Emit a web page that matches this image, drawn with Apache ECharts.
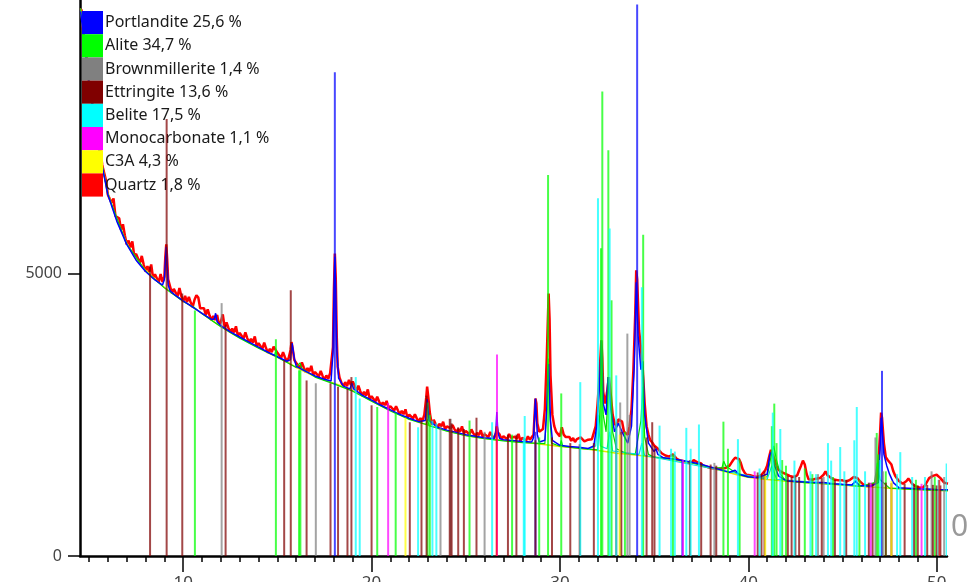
<!DOCTYPE html>
<html><head><meta charset="utf-8">
<script src="https://cdn.jsdelivr.net/npm/echarts@6/dist/echarts.min.js"></script>
<style>html,body{margin:0;padding:0;background:#fff}#c{width:969px;height:582px}</style>
</head><body><div id="c"></div>
<script>
// ---- legend / phases ----
const phaseNames = ['Portlandite','Alite','Brownmillerite','Ettringite','Belite','Monocarbonate','C3A','Quartz'];
const phasePct = ['25,6 %','34,7 %','1,4 %','13,6 %','17,5 %','1,1 %','4,3 %','1,8 %'];
const phaseColors = ['#0000ff','#00ff00','#808080','#800000','#00ffff','#ff00ff','#ffff00','#ff0000'];

// ---- axis ticks ----
const xMinorTicks = [5,6,7,8,9,10,11,12,13,14,15,16,17,18,19,20,21,22,23,24,25,26,27,28,29,30,31,32,33,34,35,36,37,38,39,40,41,42,43,44,45,46,47,48,49,50];
const xMajorTicks = [10,20,30,40,50];
const yTicks = [0,5000];

// ---- observed pattern (2theta, counts) ----
const observed = [[4.6,9684],[4.7,9258],[4.8,9126],[4.9,8734],[5.0,8380],[5.1,8256],[5.2,7936],[5.3,7884],[5.4,7464],[5.5,7342],[5.6,7214],[5.7,6928],[5.8,6926],[5.9,6654],[6.0,6400],[6.1,6426],[6.2,6256],[6.3,6334],[6.4,6024],[6.5,6022],[6.6,5984],[6.7,5778],[6.8,5876],[6.9,5684],[7.0,5520],[7.1,5586],[7.2,5466],[7.3,5574],[7.4,5314],[7.5,5352],[7.6,5354],[7.7,5188],[7.8,5316],[7.9,5164],[8.0,5040],[8.1,5136],[8.2,5036],[8.3,5164],[8.4,4924],[8.5,4992],[8.6,5004],[8.7,4848],[8.8,4996],[8.9,4854],[9.0,4950],[9.05,5300],[9.1,5520],[9.15,5250],[9.2,4900],[9.3,4894],[9.4,4654],[9.5,4732],[9.6,4754],[9.7,4598],[9.8,4746],[9.9,4604],[10.0,4500],[10.1,4610],[10.2,4500],[10.3,4590],[10.4,4490],[10.5,4410],[10.6,4540],[10.7,4620],[10.8,4580],[10.9,4390],[11.0,4380],[11.1,4390],[11.2,4270],[11.3,4370],[11.4,4260],[11.5,4180],[11.6,4250],[11.7,4180],[11.8,4270],[11.9,4100],[12.0,4150],[12.1,4280],[12.2,4050],[12.3,4140],[12.4,4040],[12.5,3960],[12.6,4030],[12.7,3960],[12.8,4070],[12.9,3900],[13.0,3950],[13.1,3960],[13.2,3850],[13.3,3960],[13.4,3860],[13.5,3780],[13.6,3850],[13.7,3780],[13.8,3890],[13.9,3720],[14.0,3770],[14.1,3780],[14.2,3670],[14.3,3780],[14.4,3680],[14.5,3600],[14.6,3670],[14.7,3610],[14.8,3710],[14.9,3720],[15.0,3600],[15.1,3610],[15.2,3510],[15.3,3610],[15.4,3520],[15.5,3440],[15.6,3510],[15.7,3650],[15.75,3790],[15.8,3700],[15.9,3470],[16.0,3420],[16.1,3430],[16.2,3330],[16.3,3430],[16.4,3340],[16.5,3260],[16.6,3330],[16.7,3270],[16.8,3370],[16.9,3210],[17.0,3260],[17.1,3280],[17.2,3180],[17.3,3280],[17.4,3190],[17.5,3120],[17.6,3200],[17.7,3140],[17.8,3240],[17.9,3250],[17.95,3700],[18.0,4700],[18.05,5360],[18.1,4900],[18.15,3900],[18.2,3350],[18.3,3160],[18.4,3070],[18.5,3000],[18.6,3080],[18.7,3010],[18.8,3120],[18.9,3030],[19.0,3090],[19.1,3020],[19.2,2910],[19.3,3020],[19.4,2920],[19.5,2840],[19.6,2910],[19.7,2840],[19.8,2950],[19.9,2780],[20.0,2830],[20.1,2828],[20.2,2736],[20.3,2822],[20.4,2738],[20.5,2670],[20.6,2722],[20.7,2672],[20.8,2748],[20.9,2618],[21.0,2654],[21.1,2658],[21.2,2576],[21.3,2652],[21.4,2578],[21.5,2510],[21.6,2572],[21.7,2512],[21.8,2598],[21.9,2458],[22.0,2504],[22.1,2518],[22.2,2436],[22.3,2512],[22.4,2438],[22.5,2380],[22.6,2442],[22.7,2392],[22.8,2500],[22.9,2800],[22.95,3000],[23.0,2850],[23.1,2520],[23.2,2326],[23.3,2412],[23.4,2338],[23.5,2280],[23.6,2342],[23.7,2292],[23.8,2378],[23.9,2248],[24.0,2294],[24.1,2308],[24.2,2266],[24.3,2322],[24.4,2248],[24.5,2190],[24.6,2252],[24.7,2202],[24.8,2298],[24.9,2168],[25.0,2214],[25.1,2228],[25.2,2156],[25.3,2242],[25.4,2178],[25.5,2120],[25.6,2182],[25.7,2142],[25.8,2228],[25.9,2108],[26.0,2159],[26.1,2178],[26.2,2106],[26.3,2197],[26.4,2128],[26.5,2075],[26.6,2180],[26.65,2290],[26.7,2190],[26.8,2150],[26.9,2068],[27.0,2124],[27.1,2143],[27.2,2066],[27.3,2162],[27.4,2093],[27.5,2095],[27.6,2112],[27.7,2072],[27.8,2163],[27.9,2038],[28.0,2094],[28.1,2110],[28.2,2040],[28.3,2120],[28.4,2060],[28.5,2080],[28.6,2150],[28.7,2790],[28.75,2700],[28.8,2350],[28.9,2200],[29.0,2180],[29.1,2250],[29.2,2600],[29.3,3500],[29.4,4650],[29.45,4200],[29.5,3200],[29.6,2500],[29.7,2300],[29.8,2200],[29.9,2160],[30.0,2120],[30.1,2280],[30.2,2150],[30.3,2110],[30.4,2080],[30.5,2110],[30.6,2040],[30.7,2090],[30.8,2020],[30.9,2070],[31.0,2050],[31.1,2100],[31.2,2080],[31.3,2030],[31.4,2010],[31.5,2060],[31.6,2030],[31.7,2070],[31.8,2100],[31.9,2300],[32.0,2700],[32.1,3200],[32.2,3820],[32.25,3500],[32.3,2900],[32.4,2700],[32.5,2900],[32.6,3170],[32.7,2850],[32.8,2500],[32.9,2350],[33.0,2300],[33.1,2420],[33.2,2450],[33.3,2380],[33.4,2200],[33.5,2230],[33.6,2150],[33.7,2300],[33.8,2600],[33.9,3300],[34.0,4300],[34.05,5060],[34.1,4900],[34.2,4000],[34.3,3700],[34.35,3460],[34.4,3300],[34.5,2700],[34.6,2300],[34.7,2150],[34.8,2050],[34.9,2010],[35.0,1960],[35.1,1990],[35.2,1900],[35.3,1870],[35.4,1820],[35.5,1830],[35.6,1780],[35.7,1800],[35.8,1760],[35.9,1790],[36.0,1800],[36.1,1780],[36.2,1720],[36.3,1740],[36.4,1690],[36.5,1720],[36.6,1680],[36.7,1700],[36.8,1650],[36.9,1680],[37.0,1660],[37.1,1700],[37.2,1680],[37.3,1660],[37.4,1630],[37.5,1640],[37.6,1600],[37.7,1620],[37.8,1580],[37.9,1600],[38.0,1560],[38.1,1580],[38.2,1550],[38.3,1570],[38.4,1540],[38.5,1560],[38.6,1550],[38.7,1580],[38.8,1560],[38.9,1590],[39.0,1600],[39.1,1650],[39.2,1700],[39.3,1740],[39.4,1760],[39.5,1720],[39.6,1650],[39.7,1540],[39.8,1480],[39.9,1440],[40.0,1420],[40.1,1430],[40.2,1400],[40.3,1410],[40.4,1380],[40.5,1400],[40.6,1410],[40.7,1440],[40.8,1460],[40.9,1520],[41.0,1600],[41.1,1750],[41.2,1880],[41.3,1850],[41.4,1700],[41.5,1600],[41.6,1530],[41.7,1500],[41.8,1480],[41.9,1470],[42.0,1450],[42.1,1440],[42.2,1420],[42.3,1410],[42.4,1400],[42.5,1410],[42.6,1430],[42.7,1520],[42.8,1600],[42.9,1690],[43.0,1620],[43.1,1450],[43.2,1360],[43.3,1370],[43.4,1350],[43.5,1360],[43.6,1370],[43.7,1360],[43.8,1380],[43.9,1400],[44.0,1440],[44.1,1500],[44.2,1430],[44.3,1400],[44.4,1380],[44.5,1370],[44.6,1350],[44.7,1360],[44.8,1340],[44.9,1350],[45.0,1340],[45.1,1330],[45.2,1320],[45.3,1340],[45.4,1350],[45.5,1370],[45.6,1400],[45.7,1430],[45.8,1380],[45.9,1330],[46.0,1300],[46.1,1270],[46.2,1250],[46.3,1240],[46.4,1230],[46.5,1240],[46.6,1260],[46.7,1280],[46.8,1320],[46.9,1600],[47.0,2200],[47.05,2540],[47.1,2450],[47.2,2000],[47.3,1750],[47.4,1700],[47.5,1690],[47.6,1620],[47.7,1500],[47.8,1420],[47.9,1370],[48.0,1330],[48.1,1300],[48.2,1280],[48.3,1300],[48.4,1330],[48.5,1370],[48.6,1330],[48.7,1280],[48.8,1250],[48.9,1230],[49.0,1220],[49.1,1210],[49.2,1200],[49.3,1220],[49.4,1260],[49.5,1320],[49.6,1380],[49.7,1400],[49.8,1420],[49.9,1430],[50.0,1440],[50.1,1410],[50.2,1380],[50.3,1340],[50.4,1300],[50.5,1290],[50.6,1280]];

// ---- calculated pattern ----
const calculated = [[4.55,9650],[5,8380],[5.5,7230],[6,6400],[6.5,5910],[7,5520],[7.5,5240],[8,5040],[8.5,4890],[8.9,4800],[9.0,4900],[9.05,5200],[9.1,5480],[9.15,5150],[9.2,4800],[9.3,4700],[9.5,4640],[10,4520],[10.5,4410],[11,4300],[11.5,4190],[11.65,4200],[11.72,4300],[11.8,4150],[12,4080],[12.5,3970],[13,3880],[13.5,3790],[14,3700],[14.5,3610],[15,3530],[15.5,3450],[15.7,3480],[15.78,3770],[15.9,3500],[16,3360],[16.5,3270],[17,3190],[17.5,3130],[17.85,3100],[17.95,3600],[18.0,4600],[18.05,5300],[18.1,4700],[18.15,3700],[18.25,3150],[18.5,3010],[18.85,2960],[18.95,3060],[19.05,2960],[19.5,2850],[20,2760],[20.5,2670],[21,2590],[21.5,2510],[22,2440],[22.5,2380],[22.85,2400],[22.95,2780],[23.05,2400],[23.5,2280],[24,2230],[24.5,2190],[25,2150],[25.5,2120],[26,2095],[26.5,2080],[26.6,2200],[26.65,2550],[26.7,2200],[26.8,2080],[27,2060],[27.5,2045],[28,2030],[28.5,2020],[28.6,2100],[28.7,2790],[28.8,2150],[28.9,2020],[29.2,2050],[29.3,2600],[29.4,3400],[29.5,2400],[29.6,2050],[30,1960],[30.5,1940],[31,1925],[31.5,1905],[31.8,1950],[31.95,2300],[32.1,3000],[32.2,3820],[32.3,2700],[32.45,2500],[32.55,3170],[32.7,2600],[32.9,2200],[33.1,2350],[33.3,2200],[33.6,2000],[33.8,2300],[33.95,3400],[34.05,4850],[34.15,3900],[34.3,3300],[34.4,3450],[34.5,2500],[34.7,2000],[35.0,1850],[35.1,1900],[35.2,1800],[35.5,1740],[36,1720],[36.5,1690],[37,1660],[37.5,1625],[38,1575],[38.5,1530],[39,1485],[39.3,1520],[39.5,1450],[40,1405],[40.5,1385],[41,1450],[41.15,1800],[41.25,1850],[41.4,1600],[41.6,1420],[42,1335],[42.5,1322],[43,1310],[43.5,1300],[44,1300],[44.5,1282],[45,1270],[45.5,1260],[45.7,1320],[45.9,1250],[46.5,1235],[46.9,1300],[47.0,1900],[47.05,2450],[47.1,2300],[47.2,1800],[47.35,1600],[47.5,1450],[47.7,1300],[48,1210],[48.5,1200],[49,1190],[49.5,1185],[50,1180],[50.6,1175]];

// ---- background ----
const background = [[4.55,9700],[4.8,8950],[5.0,8400],[5.2,7900],[5.5,7250],[6.0,6420],[6.5,5930],[7.0,5540],[7.5,5260],[8.0,5060],[8.5,4900],[9.0,4760],[9.5,4640],[10.0,4520],[10.5,4410],[11.0,4300],[11.5,4180],[12.0,4070],[12.5,3960],[13.0,3870],[13.5,3780],[14.0,3690],[14.5,3600],[15.0,3520],[15.5,3440],[16.0,3340],[16.5,3260],[17.0,3180],[17.5,3120],[18.0,3060],[18.5,3000],[19.0,2930],[19.5,2840],[20.0,2750],[20.5,2660],[21.0,2580],[21.5,2500],[22.0,2430],[22.5,2370],[23.0,2320],[23.5,2270],[24.0,2220],[24.5,2180],[25.0,2140],[25.5,2110],[26.0,2085],[26.5,2065],[27.0,2050],[27.5,2035],[28.0,2020],[28.5,2000],[29.0,1980],[29.5,1960],[30.0,1940],[30.5,1925],[31.0,1910],[31.5,1890],[32.0,1870],[32.5,1845],[33.0,1820],[33.5,1805],[34.0,1790],[34.5,1770],[35.0,1750],[35.5,1725],[36.0,1700],[36.5,1675],[37.0,1650],[37.5,1615],[38.0,1565],[38.5,1520],[39.0,1475],[39.5,1430],[40.0,1395],[40.5,1375],[41.0,1355],[41.5,1340],[42.0,1325],[42.5,1312],[43.0,1300],[43.5,1290],[44.0,1280],[44.5,1270],[45.0,1258],[45.5,1246],[46.0,1234],[46.5,1222],[47.0,1212],[47.5,1202],[48.0,1192],[48.5,1184],[49.0,1176],[49.5,1170],[50.0,1164],[50.6,1158]];

// ---- Alite and Belite phase curves ----
const aliteCurve = [[4.55,9690],[5,8390],[5.5,7240],[6,6410],[7,5530],[8,5050],[9,4750],[10,4510],[10.6,4400],[11,4290],[12,4060],[13,3860],[14,3680],[14.85,3550],[14.92,3650],[15.0,3520],[16,3340],[16.1,3380],[16.2,3420],[16.3,3320],[17,3170],[18,3050],[19,2920],[20,2740],[21,2570],[22,2420],[22.9,2330],[22.97,2420],[23.05,2310],[24,2210],[25,2130],[26,2080],[27,2040],[28,2010],[29.2,1990],[29.3,2600],[29.37,3500],[29.45,2600],[29.55,2000],[30,1945],[30.07,2050],[30.15,1940],[31,1905],[32,1880],[32.1,2400],[32.2,3300],[32.3,2500],[32.45,2200],[32.57,3000],[32.7,2700],[32.8,2200],[33,1900],[33.5,1820],[34,1800],[34.3,2400],[34.4,3000],[34.5,2100],[34.7,1800],[35,1750],[36,1720],[37,1650],[38,1565],[38.6,1560],[38.7,1680],[38.8,1600],[38.95,1560],[39.5,1440],[40,1395],[41,1400],[41.2,1750],[41.35,1950],[41.5,1700],[41.7,1450],[42,1330],[43,1300],[44,1280],[45,1258],[46,1234],[46.7,1300],[46.85,1650],[47.0,1350],[47.5,1202],[48,1192],[49,1176],[50,1164],[50.6,1158]];
const beliteCurve = [[31.5,1890],[31.9,1950],[32.02,2500],[32.15,1950],[32.5,1900],[32.64,2200],[32.8,1860],[34.2,1800],[34.35,2000],[34.5,1780],[41.0,1360],[41.25,1600],[41.5,1360],[45.5,1250],[45.7,1350],[45.9,1245]];

// ---- stick patterns (position, height) ----
const sticksPortlandite = [[18.05,8570],[28.7,2200],[34.1,9770],[36.5,1700],[47.1,3280]];
const sticksAlite = [[10.62,4350],[14.92,3840],[16.15,3290],[16.22,3290],[20.3,2640],[21.28,2540],[22.97,2720],[23.09,2500],[25.2,2400],[27.46,2150],[28.9,2100],[29.37,6750],[30.07,2880],[32.18,5450],[32.25,8230],[32.57,7190],[32.74,4530],[33.45,2200],[34.42,5690],[36.0,1800],[38.68,2380],[38.92,1900],[39.54,1700],[41.25,2300],[41.38,2700],[41.5,2000],[41.8,1700],[42.0,1600],[43.0,1550],[43.4,1450],[44.5,1400],[45.9,1350],[46.82,2180],[46.9,1800],[47.3,1500],[48.9,1350],[49.9,1400]];
const sticksBrownmillerite = [[12.04,4480],[17.04,3060],[23.66,2300],[24.2,2430],[26.0,2200],[33.2,2720],[33.58,3940],[33.7,2500],[38.2,1650],[43.7,1450],[44.0,1400],[46.75,2100],[47.15,1500],[49.73,1500],[50.4,1400]];
const sticksEttringite = [[8.24,5130],[9.12,7740],[9.95,4650],[12.25,4100],[15.36,3470],[15.71,4710],[16.55,3110],[17.82,3060],[18.22,3000],[18.72,2970],[18.93,3170],[20.0,2670],[22.03,2370],[22.65,2400],[22.92,2840],[24.15,2430],[24.25,2350],[24.6,2280],[24.9,2250],[25.57,2450],[27.24,2150],[27.69,2150],[28.7,2050],[29.58,2100],[30.55,2000],[31.05,1980],[31.8,2000],[32.99,2300],[33.26,2200],[34.6,2100],[34.9,2370],[35.02,1950],[36.9,1700],[37.5,1650],[38.0,1620],[38.3,1600],[40.5,1480],[40.7,1450],[40.86,1500],[42.1,1420],[42.3,1400],[42.5,1420],[42.7,1400],[43.9,1380],[44.6,1350],[45.2,1350],[46.4,1300],[46.6,1280],[47.3,1300],[47.6,1290],[48.3,1280],[48.8,1270],[49.0,1250],[49.5,1260],[49.8,1260],[50.0,1250],[50.2,1250]];
const sticksBelite = [[19.16,3170],[19.37,2790],[22.47,2280],[23.23,2400],[23.44,2350],[26.4,2370],[28.08,2100],[28.13,2480],[31.08,3080],[32.02,6340],[32.64,5800],[32.99,3200],[34.35,4760],[35.29,2310],[35.9,1900],[36.1,1850],[36.71,2270],[36.94,1900],[37.38,2330],[39.45,2070],[40.6,1550],[41.3,2540],[41.7,2250],[42.45,1690],[43.3,1500],[43.6,1450],[44.23,2000],[44.4,1690],[44.88,1930],[45.1,1500],[45.63,2050],[45.76,2640],[46.2,1500],[47.0,1700],[47.9,1450],[48.07,1840],[48.7,1400],[49.38,1400],[50.1,1350],[50.53,1640]];
const sticksMonocarbonate = [[20.88,2710],[26.66,3570],[36.53,1700],[40.34,1500],[46.5,1300],[49.2,1280]];
const sticksC3A = [[21.8,2450],[33.17,2150],[40.9,1420],[47.6,1330]];
const sticksQuartz = [[26.64,2300],[50.14,1350]];

const stickSets = [sticksPortlandite, sticksAlite, sticksBrownmillerite, sticksEttringite, sticksBelite, sticksMonocarbonate, sticksC3A, sticksQuartz];

const chart = echarts.init(document.getElementById('c'), null, {renderer:'canvas'});

function stickSeries(name, data, color) {
  return {
    name: name, type: 'custom', data: data, z: 5, clip: true,
    encode: {x: 0, y: 1},
    itemStyle: {color: color},
    renderItem: function (params, api) {
      const x = api.value(0), h = api.value(1);
      const p0 = api.coord([x, 0]);
      const p1 = api.coord([x, h]);
      return {type: 'line', shape: {x1: p0[0], y1: p0[1], x2: p1[0], y2: p1[1]},
        style: {stroke: color, lineWidth: 2, opacity: 0.72}};
    }
  };
}

const series = [
  {name:'obs', type:'line', data: observed, showSymbol:false, z:1, lineStyle:{color:'#ff0000', width:2.5}, silent:true},
  {name:'bg', type:'line', data: background, showSymbol:false, z:2, lineStyle:{color:'#e6e600', width:1.5}, silent:true},
  {name:'aliteCurve', type:'line', data: aliteCurve, showSymbol:false, z:2, lineStyle:{color:'#00dd00', width:1.2}, silent:true},
  {name:'beliteCurve', type:'line', data: beliteCurve, showSymbol:false, z:2, lineStyle:{color:'#00e0e0', width:1.2}, silent:true},
  {name:'calc', type:'line', data: calculated, showSymbol:false, z:3, lineStyle:{color:'#0000ff', width:1.5}, silent:true}
];
phaseNames.forEach((n, i) => series.push(stickSeries(n, stickSets[i], phaseColors[i])));

const option = {
  animation: false,
  backgroundColor: '#ffffff',
  grid: {left: 80, right: 22, top: 0, bottom: 26, containLabel: false, outerBoundsMode: 'none'},
  legend: {
    show: true, orient: 'vertical', left: 82, top: 11, padding: 0,
    itemWidth: 21, itemHeight: 23.2, itemGap: 0, icon: 'rect',
    selectedMode: false,
    data: phaseNames.map((n, i) => ({name: n, itemStyle: {color: phaseColors[i], opacity: 1}})),
    formatter: function (n) { return n + ' ' + phasePct[phaseNames.indexOf(n)]; },
    textStyle: {fontFamily: 'Noto Sans', fontSize: 16, color: '#1a1a1a', padding: [0,0,0,-3]}
  },
  xAxis: [
    {type:'value', min:4.52, max:50.55, position:'bottom',
     axisLine:{show:true, lineStyle:{color:'#000', width:2.5}},
     axisTick:{show:true, customValues: xMinorTicks, length:6, lineStyle:{color:'#000', width:1.5}},
     axisLabel:{show:false}, splitLine:{show:false}},
    {type:'value', min:4.52, max:50.55, position:'bottom', gridIndex:0,
     axisLine:{show:false},
     axisTick:{show:true, customValues: xMajorTicks, length:16, lineStyle:{color:'#000', width:1.5}},
     axisLabel:{show:true, customValues: xMajorTicks, margin:19, fontSize:17, color:'#444', fontFamily:'Noto Sans',
       formatter: function (v) { return String(v); }},
     splitLine:{show:false}}
  ],
  yAxis: {type:'value', min:0, max:9850,
    axisLine:{show:true, lineStyle:{color:'#000', width:2.5}},
    axisTick:{show:true, customValues: yTicks, length:12, lineStyle:{color:'#000', width:1.5}},
    axisLabel:{show:true, customValues: yTicks, margin:18, fontSize:16, color:'#444', fontFamily:'Noto Sans',
      formatter: function (v) { return String(v); }},
    splitLine:{show:false}},
  graphic: [
    {type:'text', left: 951, top: 512, style:{text:'0', fontSize:30, fill:'#999', fontFamily:'Noto Sans'}}
  ],
  series: series
};
chart.setOption(option);
</script></body></html>
